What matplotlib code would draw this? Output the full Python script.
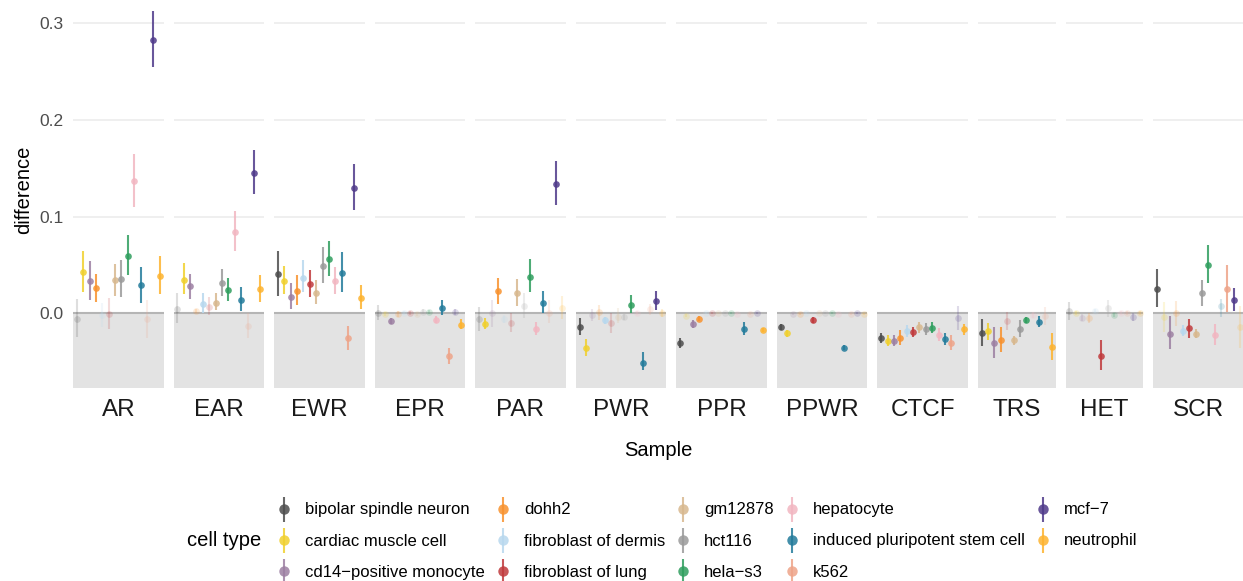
import matplotlib
matplotlib.use("Agg")
import matplotlib.pyplot as plt
from matplotlib.lines import Line2D

plt.rcParams["font.family"] = ["Liberation Sans", "DejaVu Sans"]

# ── Data ──────────────────────────────────────────────────────────────────────
CELLS = ["bipolar spindle neuron", "cardiac muscle cell", "cd14\u2212positive monocyte",
         "dohh2", "fibroblast of dermis", "fibroblast of lung", "gm12878", "hct116",
         "hela\u2212s3", "hepatocyte", "induced pluripotent stem cell", "k562",
         "mcf\u22127", "neutrophil"]
COLORS = ["#4d4d4d", "#f0d02e", "#9c7fa2", "#f8922e", "#b8d8ee", "#c03a3c", "#d8b88e",
          "#9a9a9a", "#2f9e5e", "#f2b6c1", "#237b9b", "#eea489", "#4f3a8a", "#fdb32f"]

SAMPLES = ["AR", "EAR", "EWR", "EPR", "PAR", "PWR", "PPR", "PPWR", "CTCF", "TRS", "HET", "SCR"]

TRS_cells = [c for c in CELLS if c not in ("fibroblast of dermis", "mcf\u22127")]
HET_cells = [c for c in CELLS if c not in ("gm12878", "induced pluripotent stem cell")]

AR_est = [-0.006, 0.043, 0.033, 0.026, -0.002, -0.001, 0.034, 0.036, 0.059, 0.137, 0.029, -0.006, 0.283, 0.039]
AR_lo = [-0.024, 0.022, 0.014, 0.012, -0.014, -0.016, 0.018, 0.017, 0.040, 0.110, 0.011, -0.025, 0.255, 0.020]
AR_hi = [0.015, 0.064, 0.054, 0.041, 0.011, 0.016, 0.051, 0.055, 0.081, 0.165, 0.048, 0.014, 0.313, 0.059]
AR_sig = [0, 1, 1, 1, 0, 0, 1, 1, 1, 1, 1, 0, 1, 1]

EAR_est = [0.0045, 0.035, 0.028, 0.002, 0.010, 0.007, 0.011, 0.031, 0.024, 0.0845, 0.014, -0.013, 0.1455, 0.025]
EAR_lo = [-0.010, 0.020, 0.0145, 0.0, 0.0, -0.002, 0.003, 0.018, 0.013, 0.064, 0.0024, -0.025, 0.123, 0.012]
EAR_hi = [0.021, 0.052, 0.041, 0.005, 0.021, 0.017, 0.021, 0.046, 0.037, 0.106, 0.027, 0.0, 0.169, 0.040]
EAR_sig = [0, 1, 1, 0, 1, 0, 1, 1, 1, 1, 1, 0, 1, 1]

EWR_est = [0.041, 0.033, 0.017, 0.023, 0.037, 0.030, 0.021, 0.049, 0.056, 0.033, 0.042, -0.026, 0.130, 0.016]
EWR_lo = [0.018, 0.020, 0.0045, 0.009, 0.022, 0.017, 0.0096, 0.031, 0.039, 0.020, 0.022, -0.038, 0.107, 0.005]
EWR_hi = [0.065, 0.049, 0.031, 0.040, 0.055, 0.045, 0.035, 0.069, 0.075, 0.048, 0.063, -0.013, 0.154, 0.029]
EWR_sig = [1] * 14

EPR_est = [0.0, -0.001, -0.0083, -0.001, 0.0, 0.0, -0.001, 0.0014, 0.001, -0.007, 0.0055, -0.0445, 0.0014, -0.0117]
EPR_lo = [-0.007, -0.003, -0.011, -0.004, -0.002, -0.002, -0.003, -0.001, -0.001, -0.0103, -0.0017, -0.052, -0.002, -0.0165]
EPR_hi = [0.009, 0.001, -0.005, 0.002, 0.002, 0.002, 0.001, 0.004, 0.003, -0.003, 0.0138, -0.036, 0.005, -0.006]
EPR_sig = [0, 0, 1, 0, 0, 0, 0, 0, 0, 1, 1, 1, 0, 1]

PAR_est = [-0.006, -0.0107, 0.0, 0.0227, -0.006, -0.010, 0.0207, 0.0076, 0.038, -0.0166, 0.011, 0.0, 0.134, 0.0055]
PAR_lo = [-0.018, -0.0157, -0.0138, 0.0096, -0.010, -0.019, 0.0076, -0.005, 0.0224, -0.0224, 0.0, -0.010, 0.112, -0.006]
PAR_hi = [0.007, -0.005, 0.0138, 0.037, -0.002, 0.0, 0.0355, 0.021, 0.056, -0.0086, 0.0234, 0.0138, 0.158, 0.018]
PAR_sig = [0, 1, 0, 1, 0, 0, 1, 0, 1, 1, 1, 0, 1, 0]

PWR_est = [-0.0138, -0.0355, -0.002, 0.001, -0.007, -0.0103, -0.004, -0.004, 0.009, 0.0, -0.051, 0.004, 0.0124, 0.0]
PWR_lo = [-0.0224, -0.044, -0.008, -0.007, -0.0115, -0.020, -0.010, -0.007, 0.0007, -0.002, -0.059, -0.002, 0.0034, -0.004]
PWR_hi = [-0.005, -0.027, 0.005, 0.009, -0.0035, 0.0, 0.006, -0.001, 0.019, 0.002, -0.040, 0.010, 0.0234, 0.004]
PWR_sig = [1, 1, 0, 0, 1, 0, 0, 0, 1, 0, 1, 0, 1, 0]

PPR_est = [-0.0307, -0.0024, -0.011, -0.0059, 0.0, 0.0, 0.0, 0.0, 0.0, -0.001, -0.0166, -0.001, 0.0, -0.0172]
PPR_lo = [-0.036, -0.004, -0.0155, -0.0083, -0.001, -0.001, -0.001, -0.001, -0.001, -0.002, -0.0224, -0.002, -0.001, -0.0193]
PPR_hi = [-0.025, -0.001, -0.0066, -0.0028, 0.001, 0.001, 0.001, 0.001, 0.001, 0.0, -0.0086, 0.0, 0.001, -0.0152]
PPR_sig = [1, 0, 1, 1, 0, 0, 0, 0, 0, 0, 1, 0, 0, 1]

PPWR_est = [-0.0141, -0.0207, -0.001, -0.001, 0.0, -0.0069, 0.0, 0.0003, 0.0, -0.001, -0.0355, -0.001, 0.0, -0.001]
PPWR_lo = [-0.017, -0.024, -0.002, -0.002, -0.001, -0.0097, -0.001, -0.001, -0.001, -0.002, -0.038, -0.002, -0.001, -0.002]
PPWR_hi = [-0.011, -0.0172, 0.0, 0.0, 0.001, -0.0041, 0.001, 0.001, 0.001, 0.0, -0.033, 0.0, 0.001, 0.0]
PPWR_sig = [1, 1, 0, 0, 0, 1, 0, 0, 0, 0, 1, 0, 0, 0]

CTCF_est = [-0.0252, -0.0283, -0.0283, -0.0259, -0.0183, -0.0193, -0.0145, -0.0166, -0.0148, -0.0224, -0.0269, -0.031, -0.0052, -0.0166]
CTCF_lo = [-0.0303, -0.0338, -0.0338, -0.0328, -0.0241, -0.0241, -0.0200, -0.0228, -0.0207, -0.0283, -0.0328, -0.0379, -0.0172, -0.0224]
CTCF_hi = [-0.020, -0.0224, -0.0224, -0.0172, -0.012, -0.0145, -0.0086, -0.0097, -0.0086, -0.0155, -0.0207, -0.0224, 0.0076, -0.011]
CTCF_sig = [1, 1, 1, 1, 1, 1, 1, 1, 1, 1, 1, 1, 0, 1]

TRS_est = [-0.0207, -0.0186, -0.031, -0.0276, -0.0079, -0.0276, -0.0166, -0.0069, -0.0017, -0.0086, -0.0027, -0.0352]
TRS_lo = [-0.0338, -0.0276, -0.0466, -0.0397, -0.0172, -0.0328, -0.0248, -0.0097, -0.005, -0.0145, -0.012, -0.048]
TRS_hi = [-0.006, -0.0103, -0.0138, -0.0145, 0.0017, -0.0234, -0.0069, -0.0041, 0.0017, -0.0024, 0.0066, -0.020]
TRS_sig = [1, 1, 1, 1, 0, 1, 1, 1, 0, 1, 0, 1]

HET_est = [0.0028, 0.0, -0.0045, -0.005, 0.0024, -0.0438, 0.0052, -0.0017, 0.0, 0.0, -0.0034, 0.0]
HET_lo = [-0.0069, -0.002, -0.008, -0.010, 0.0, -0.0586, -0.0034, -0.004, -0.002, -0.002, -0.0075, -0.002]
HET_hi = [0.012, 0.002, -0.001, 0.0, 0.005, -0.0276, 0.0138, 0.0005, 0.002, 0.002, 0.0007, 0.002]
HET_sig = [0, 0, 0, 0, 0, 1, 0, 0, 0, 0, 0, 0]

SCR_est = [0.0252, -0.004, -0.021, 0.0, -0.018, -0.0155, -0.0217, 0.0207, 0.0496, -0.0224, 0.0076, 0.0248, 0.0134, -0.0145]
SCR_lo = [0.0069, -0.019, -0.0372, -0.0134, -0.0238, -0.0252, -0.0259, 0.0076, 0.031, -0.0331, -0.004, 0.0017, 0.0028, -0.036]
SCR_hi = [0.0455, 0.0117, -0.0028, 0.013, -0.0124, -0.0055, -0.0165, 0.0345, 0.0707, -0.0114, 0.0145, 0.0496, 0.0259, 0.0076]
SCR_sig = [1, 0, 1, 0, 1, 1, 1, 1, 1, 1, 0, 1, 1, 0]

panel_data = {
    "AR": (CELLS, AR_est, AR_lo, AR_hi, AR_sig),
    "EAR": (CELLS, EAR_est, EAR_lo, EAR_hi, EAR_sig),
    "EWR": (CELLS, EWR_est, EWR_lo, EWR_hi, EWR_sig),
    "EPR": (CELLS, EPR_est, EPR_lo, EPR_hi, EPR_sig),
    "PAR": (CELLS, PAR_est, PAR_lo, PAR_hi, PAR_sig),
    "PWR": (CELLS, PWR_est, PWR_lo, PWR_hi, PWR_sig),
    "PPR": (CELLS, PPR_est, PPR_lo, PPR_hi, PPR_sig),
    "PPWR": (CELLS, PPWR_est, PPWR_lo, PPWR_hi, PPWR_sig),
    "CTCF": (CELLS, CTCF_est, CTCF_lo, CTCF_hi, CTCF_sig),
    "TRS": (TRS_cells, TRS_est, TRS_lo, TRS_hi, TRS_sig),
    "HET": (HET_cells, HET_est, HET_lo, HET_hi, HET_sig),
    "SCR": (CELLS, SCR_est, SCR_lo, SCR_hi, SCR_sig),
}
color_of = dict(zip(CELLS, COLORS))

# ── Layout (pixels -> figure fraction) ────────────────────────────────────────
W, H = 1243, 581
fig = plt.figure(figsize=(W / 100, H / 100), dpi=100)
fig.patch.set_facecolor("white")

YMIN, YMAX = -0.0772, 0.3326
left_px, right_px, gap_px = 73, 1244, 10
bottom_px, top_px = 388, -8.2
units = [len(panel_data[s][0]) + 0.2 for s in SAMPLES]
px_per_unit = (right_px - left_px - gap_px * (len(SAMPLES) - 1)) / sum(units)

x0 = left_px
for i, s in enumerate(SAMPLES):
    cells, est, lo, hi, sig = panel_data[s]
    w = units[i] * px_per_unit
    ax = fig.add_axes([x0 / W, 1 - bottom_px / H, w / W, (bottom_px - top_px) / H])
    x0 += w + gap_px

    ax.set_facecolor("white")
    ax.set_xlim(-0.6, len(cells) - 0.4)
    ax.set_ylim(YMIN, YMAX)
    for yv in (0.1, 0.2, 0.3):
        ax.axhline(yv, color="#ebebeb", lw=1.1, zorder=0)
    ax.axhspan(YMIN, 0, color="#e3e3e3", lw=0, zorder=0.5)
    ax.axhline(0, color="#b5b5b5", lw=1.5, zorder=1)

    for j, c in enumerate(cells):
        a = 0.85 if sig[j] else 0.18
        ax.plot([j, j], [lo[j], hi[j]], color=color_of[c], lw=1.5, alpha=a,
                solid_capstyle="butt", zorder=3)
        ax.plot(j, est[j], "o", color=color_of[c], ms=4.8, mew=0, alpha=a, zorder=4)

    for sp in ax.spines.values():
        sp.set_visible(False)
    ax.set_xticks([])
    ax.tick_params(axis="y", length=0, labelsize=12.5, labelcolor="#4d4d4d", pad=6.5)
    ax.set_yticks([0.0, 0.1, 0.2, 0.3])
    if i == 0:
        ax.set_yticklabels(["0.0", "0.1", "0.2", "0.3"])
        ax.set_ylabel("difference", fontsize=14.5, labelpad=5)
    else:
        ax.set_yticklabels([])
    ax.set_xlabel(s, fontsize=17.5, labelpad=8, color="#1a1a1a")

fig.text(658 / W, 1 - 450 / H, "Sample", ha="center", va="center", fontsize=14.5)

# ── Legend ────────────────────────────────────────────────────────────────────
handles = [
    (Line2D([], [], marker="|", ms=18, mew=1.5, ls="None", color=col, alpha=0.85),
     Line2D([], [], marker="o", ms=7.5, mew=0, ls="None", color=col, alpha=0.85))
    for col in COLORS
]
fig.legend(handles, CELLS, ncol=5, loc="center left", frameon=False,
           bbox_to_anchor=(275.7 / W, 1 - 541 / H), fontsize=12,
           handlelength=1.0, handletextpad=0.75, columnspacing=0.6,
           labelspacing=0.97, borderpad=0, borderaxespad=0)
fig.text(187 / W, 1 - 540 / H, "cell type", ha="left", va="center", fontsize=14.5)

fig.savefig("out.png", dpi=100, facecolor="white")
